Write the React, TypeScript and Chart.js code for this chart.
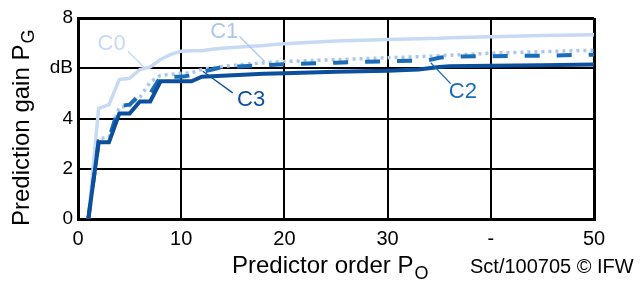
import React, { useEffect, useRef } from "react";
import { Chart, registerables } from "chart.js";

Chart.register(...registerables);

// ---- data ----
const orders = [1, 2, 3, 4, 5, 6, 7, 8, 9, 10, 11, 12, 13, 14, 16, 18, 20, 25, 30, 33, 34, 35, 36, 40, 45, 50];
const gainC0 = [0, 4.4, 4.55, 5.55, 5.6, 5.95, 6.05, 6.35, 6.55, 6.68, 6.7, 6.7, 6.76, 6.8, 6.86, 6.91, 6.98, 7.08, 7.14, 7.17, 7.18, 7.19, 7.21, 7.25, 7.3, 7.33];
const gainC1 = [0, 3.2, 3.25, 4.45, 4.5, 4.85, 5.45, 5.72, 5.76, 5.8, 5.82, 5.95, 6.02, 6.07, 6.15, 6.22, 6.27, 6.34, 6.42, 6.46, 6.48, 6.5, 6.52, 6.6, 6.66, 6.72];
const gainC2 = [0, 3.1, 3.2, 4.5, 4.55, 4.95, 5.0, 5.66, 5.66, 5.66, 5.72, 5.85, 5.95, 6.05, 6.08, 6.12, 6.16, 6.22, 6.28, 6.3, 6.32, 6.42, 6.46, 6.48, 6.5, 6.54];
const gainC3 = [0, 3.05, 3.05, 4.2, 4.2, 4.68, 4.68, 5.48, 5.48, 5.48, 5.48, 5.66, 5.68, 5.7, 5.74, 5.78, 5.8, 5.86, 5.9, 5.95, 6.0, 6.05, 6.08, 6.1, 6.12, 6.15];

const xTickLabels: Record<number, string> = { 0: "0", 10: "10", 20: "20", 30: "30", 40: "-", 50: "50" };
const yTickLabels: Record<number, string> = { 0: "0", 2: "2", 4: "4", 6: "dB", 8: "8" };

const colorC0 = "#c7d9f3";
const colorC1 = "#a9c6ef";
const colorC2 = "#1a6cb7";
const colorC3 = "#0c4f9c";

// curve labels in data coordinates: text position, leader line from/to
const curveLabelNames = ["C0", "C1", "C2", "C3"];
const curveLabelColors = [colorC0, colorC1, colorC2, colorC3];
const curveLabelAt = [[3.26, 6.98], [14.17, 7.44], [37.3, 5.05], [16.77, 4.72]];
const leaderFrom = [[4.84, 6.68], [15.64, 7.27], [36.11, 5.39], [14.99, 5.02]];
const leaderTo = [[6.45, 6.02], [18.06, 6.28], [34.18, 6.22], [12.09, 5.88]];

const FONT = "'Liberation Sans', Arial, Helvetica, sans-serif";

const pts = (ys: number[]) => orders.map((o, i) => ({ x: o, y: ys[i] }));

const overlayPlugin = {
  id: "overlay",
  afterDatasetsDraw(chart: any) {
    const { ctx, scales } = chart;
    const xs = scales.x;
    const ys = scales.y;
    ctx.save();
    for (let i = 0; i < curveLabelNames.length; i++) {
      ctx.strokeStyle = curveLabelColors[i];
      ctx.lineWidth = 1.3;
      ctx.beginPath();
      ctx.moveTo(xs.getPixelForValue(leaderFrom[i][0]), ys.getPixelForValue(leaderFrom[i][1]));
      ctx.lineTo(xs.getPixelForValue(leaderTo[i][0]), ys.getPixelForValue(leaderTo[i][1]));
      ctx.stroke();
      ctx.fillStyle = curveLabelColors[i];
      ctx.font = `22px ${FONT}`;
      ctx.textAlign = "center";
      ctx.textBaseline = "middle";
      ctx.fillText(curveLabelNames[i], xs.getPixelForValue(curveLabelAt[i][0]), ys.getPixelForValue(curveLabelAt[i][1]));
    }
    ctx.restore();
  },
  afterDraw(chart: any) {
    const { ctx } = chart;
    ctx.save();
    ctx.fillStyle = "#000";
    ctx.textAlign = "left";
    ctx.textBaseline = "alphabetic";
    // x title
    ctx.font = `24px ${FONT}`;
    const xt = "Predictor order P";
    ctx.fillText(xt, 232, 273);
    const w = ctx.measureText(xt).width;
    ctx.font = `18px ${FONT}`;
    ctx.fillText("O", 232 + w + 1, 279);
    // credit
    ctx.font = `20px ${FONT}`;
    ctx.fillText("Sct/100705 \u00a9 IFW", 470, 273);
    // y title
    ctx.translate(28.5, 226);
    ctx.rotate(-Math.PI / 2);
    ctx.font = `24px ${FONT}`;
    const yt = "Prediction gain P";
    ctx.fillText(yt, 0, 0);
    const w2 = ctx.measureText(yt).width;
    ctx.font = `18px ${FONT}`;
    ctx.fillText("G", w2 + 1, 5);
    ctx.restore();
  },
};

export default function App() {
  const ref = useRef<HTMLCanvasElement | null>(null);
  useEffect(() => {
    if (!ref.current) return;
    const chart = new Chart(ref.current, {
      type: "line",
      data: {
        datasets: [
          { label: "C0", data: pts(gainC0), borderColor: colorC0, borderWidth: 3.5, order: 4 },
          { label: "C1", data: pts(gainC1), borderColor: colorC1, borderWidth: 3.5, borderDash: [3, 4], order: 3 },
          { label: "C2", data: pts(gainC2), borderColor: colorC2, borderWidth: 4, borderDash: [15, 17], order: 2 },
          { label: "C3", data: pts(gainC3), borderColor: colorC3, borderWidth: 4, order: 1 },
        ].map((d) => ({ ...d, pointRadius: 0, tension: 0, fill: false, borderCapStyle: "butt", borderJoinStyle: "miter" })) as any,
      },
      options: {
        responsive: false,
        animation: false,
        events: [],
        layout: { padding: { left: 0, top: 18, right: 49, bottom: 0 } },
        plugins: { legend: { display: false }, tooltip: { enabled: false }, title: { display: false } },
        scales: {
          x: {
            type: "linear",
            min: 0,
            max: 50,
            afterFit: (s: any) => { s.height = 63; },
            ticks: {
              stepSize: 10,
              padding: 8,
              color: "#000",
              font: { size: 20, family: FONT },
              maxRotation: 0,
              callback: (v: any) => xTickLabels[v as number] ?? "",
            },
            grid: {
              color: "#000",
              drawTicks: false,
              lineWidth: (c: any) => (c.tick && (c.tick.value === 50 || c.tick.value === 0) ? 3 : 2),
            },
            border: { color: "#000", width: 3 },
          },
          y: {
            type: "linear",
            min: 0,
            max: 8,
            afterFit: (s: any) => { s.width = 78; },
            ticks: {
              stepSize: 2,
              padding: 5,
              color: "#000",
              font: { size: 19, family: FONT },
              callback: (v: any) => yTickLabels[v as number] ?? "",
            },
            grid: {
              color: "#000",
              drawTicks: false,
              lineWidth: (c: any) => (c.tick && (c.tick.value === 8 || c.tick.value === 0) ? 3 : 2),
            },
            border: { color: "#000", width: 3 },
          },
        },
      },
      plugins: [overlayPlugin],
    });
    return () => chart.destroy();
  }, []);
  return (
    <div style={{ position: "absolute", left: 0, top: 0, width: 643, height: 282, background: "#fff" }}>
      <canvas ref={ref} width={643} height={282} style={{ display: "block" }} />
    </div>
  );
}
